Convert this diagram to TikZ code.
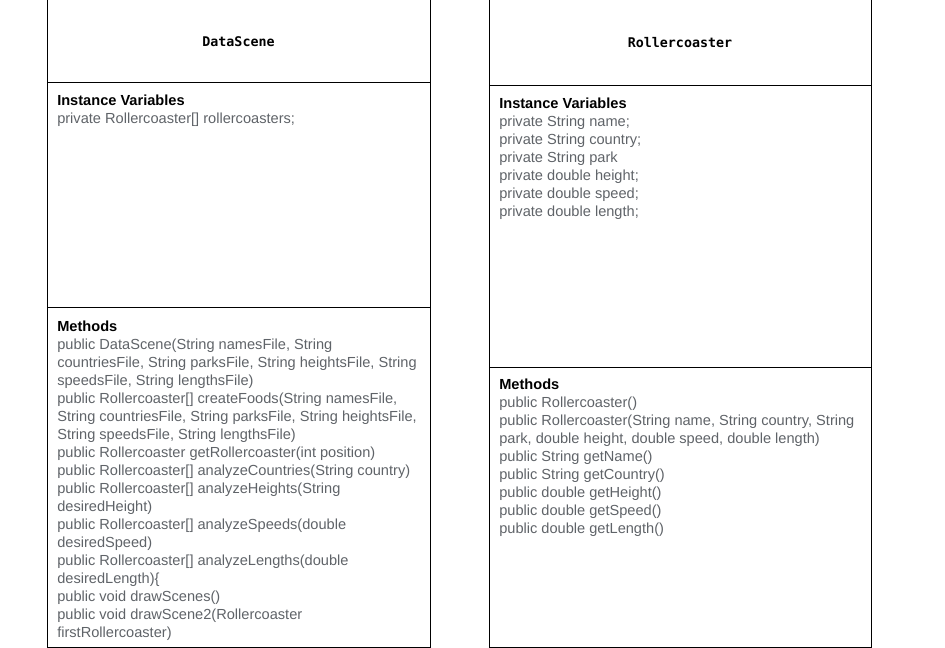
\documentclass[tikz,border=0pt]{standalone}
\usepackage{fontspec}
\setmainfont{Liberation Sans}
\newfontfamily\codefont{DejaVu Sans Mono}
\definecolor{membergrey}{RGB}{95,99,104}

\tikzset{
  classname/.style={font=\codefont\bfseries\fontsize{10}{12}\selectfont, inner sep=0pt},
  compartment/.style={anchor=base west, inner sep=0pt, align=left, text=membergrey,
    font=\fontsize{10.95}{13.5}\selectfont},
}
\newcommand{\parthead}[1]{\textcolor{black}{\bfseries #1}}

\begin{document}
\begin{tikzpicture}[x=0.75pt, y=-0.75pt]
\useasboundingbox (0,0) rectangle (945,648);

% class boxes
\begin{scope}[line width=0.75pt]
\draw (47,-3) rectangle (430,647);
\draw (47,83) -- (430,83);
\draw (47,308) -- (430,308);
\draw (489,-3) rectangle (871,647);
\draw (489,86) -- (871,86);
\draw (489,367) -- (871,367);
\end{scope}

% DataScene (anchored at the baseline of the last line)
\node [classname] (dsname) at (238.5,41.5) {DataScene};
\node [compartment] (dsvars) at (57,124) {\parthead{Instance Variables}\\
private Rollercoaster[] rollercoasters;};
\node [compartment] (dsmethods) at (57,637) {\parthead{Methods}\\
public DataScene(String namesFile, String\\
countriesFile, String parksFile, String heightsFile, String\\
speedsFile, String lengthsFile)\\
public Rollercoaster[] createFoods(String namesFile,\\
String countriesFile, String parksFile, String heightsFile,\\
String speedsFile, String lengthsFile)\\
public Rollercoaster getRollercoaster(int position)\\
public Rollercoaster[] analyzeCountries(String country)\\
public Rollercoaster[] analyzeHeights(String\\
desiredHeight)\\
public Rollercoaster[] analyzeSpeeds(double\\
desiredSpeed)\\
public Rollercoaster[] analyzeLengths(double\\
desiredLength)\{\\
public void drawScenes()\\
public void drawScene2(Rollercoaster\\
firstRollercoaster)};

% Rollercoaster
\node [classname] (rcname) at (680,43) {Rollercoaster};
\node [compartment] (rcvars) at (499,217) {\parthead{Instance Variables}\\
private String name;\\
private String country;\\
private String park\\
private double height;\\
private double speed;\\
private double length;};
\node [compartment] (rcmethods) at (499,533) {\parthead{Methods}\\
public Rollercoaster()\\
public Rollercoaster(String name, String country, String\\
park, double height, double speed, double length)\\
public String getName()\\
public String getCountry()\\
public double getHeight()\\
public double getSpeed()\\
public double getLength()};

\end{tikzpicture}
\end{document}
